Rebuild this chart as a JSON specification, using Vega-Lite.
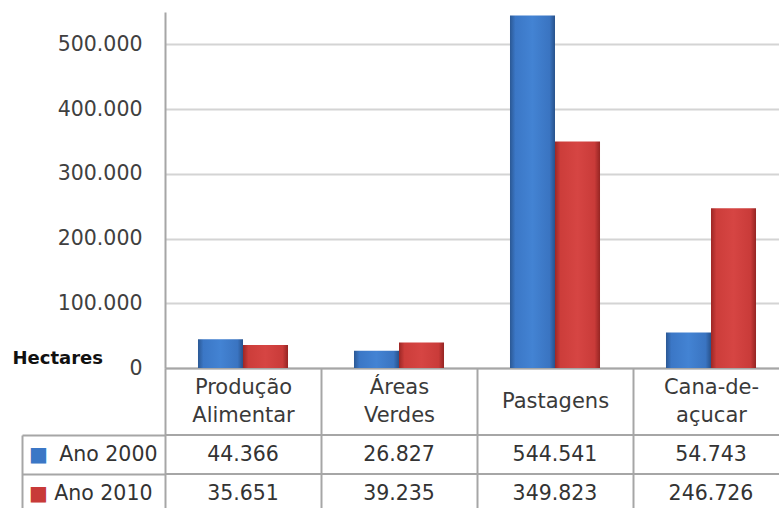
{
  "$schema": "https://vega.github.io/schema/vega-lite/v6.json",
  "padding": {"left": 12, "top": 12, "right": 0, "bottom": 0},
  "datasets": {
    "uso": [
      {"categoria": "Produção Alimentar", "ano": "Ano 2000", "hectares": 44366},
      {"categoria": "Produção Alimentar", "ano": "Ano 2010", "hectares": 35651},
      {"categoria": "Áreas Verdes", "ano": "Ano 2000", "hectares": 26827},
      {"categoria": "Áreas Verdes", "ano": "Ano 2010", "hectares": 39235},
      {"categoria": "Pastagens", "ano": "Ano 2000", "hectares": 544541},
      {"categoria": "Pastagens", "ano": "Ano 2010", "hectares": 349823},
      {"categoria": "Cana-de-açucar", "ano": "Ano 2000", "hectares": 54743},
      {"categoria": "Cana-de-açucar", "ano": "Ano 2010", "hectares": 246726}
    ]
  },
  "bounds": "flush",
  "spacing": 67,
  "vconcat": [
    {
      "width": 624,
      "height": 356,
      "data": {"name": "uso"},
      "encoding": {
        "x": {
          "field": "categoria",
          "type": "nominal",
          "sort": ["Produção Alimentar", "Áreas Verdes", "Pastagens", "Cana-de-açucar"],
          "scale": {"paddingInner": 0, "paddingOuter": 0},
          "axis": {
            "title": null,
            "orient": "bottom",
            "domainColor": "#a6a6a6",
            "domainWidth": 2,
            "ticks": true,
            "tickBand": "extent",
            "tickSize": 67,
            "tickColor": "#a6a6a6",
            "tickWidth": 2,
            "labelAngle": 0,
            "labelFont": "DejaVu Sans",
            "labelFontSize": 21,
            "labelColor": "#3a3a3a",
            "labelLineHeight": 28,
            "labelPadding": {"expr": "datum.value === 'Pastagens' ? -45 : -59"},
            "labelExpr": "datum.value === 'Produção Alimentar' ? ['Produção', 'Alimentar'] : datum.value === 'Áreas Verdes' ? ['Áreas', 'Verdes'] : datum.value === 'Cana-de-açucar' ? ['Cana-de-', 'açucar'] : datum.value"
          }
        },
        "xOffset": {
          "field": "ano",
          "type": "nominal",
          "scale": {"paddingInner": 0, "paddingOuter": 0.733}
        },
        "y": {
          "field": "hectares",
          "type": "quantitative",
          "scale": {"domain": [0, 550000], "nice": false},
          "axis": {
            "title": "Hectares",
            "titleAngle": 0,
            "titleAlign": "left",
            "titleBaseline": "middle",
            "titleX": -153,
            "titleY": 346,
            "titleFont": "DejaVu Sans",
            "titleFontSize": 18,
            "titleFontWeight": "bold",
            "titleColor": "#111111",
            "values": [0, 100000, 200000, 300000, 400000, 500000],
            "format": ",d",
            "ticks": false,
            "labelPadding": 23,
            "labelFont": "DejaVu Sans",
            "labelFontSize": 20.5,
            "labelColor": "#404040",
            "domainColor": "#a6a6a6",
            "domainWidth": 2,
            "grid": true,
            "gridColor": "#d4d4d4",
            "gridWidth": 2
          }
        }
      },
      "layer": [
        {
          "transform": [{"filter": "datum.ano === 'Ano 2000'"}],
          "mark": {
            "type": "bar",
            "color": {
              "gradient": "linear",
              "x1": 0, "x2": 1, "y1": 0, "y2": 0,
              "stops": [
                {"offset": 0, "color": "#2b5894"},
                {"offset": 0.12, "color": "#3b77c6"},
                {"offset": 0.5, "color": "#4383d3"},
                {"offset": 0.88, "color": "#3a74c1"},
                {"offset": 1, "color": "#28528b"}
              ]
            }
          }
        },
        {
          "transform": [{"filter": "datum.ano === 'Ano 2010'"}],
          "mark": {
            "type": "bar",
            "color": {
              "gradient": "linear",
              "x1": 0, "x2": 1, "y1": 0, "y2": 0,
              "stops": [
                {"offset": 0, "color": "#9c2725"},
                {"offset": 0.12, "color": "#cc3d3a"},
                {"offset": 0.5, "color": "#d64543"},
                {"offset": 0.88, "color": "#c93b39"},
                {"offset": 1, "color": "#952523"}
              ]
            }
          }
        }
      ]
    },
    {
      "width": 624,
      "height": 78,
      "data": {"name": "uso"},
      "layer": [
        {
          "mark": {"type": "text", "font": "DejaVu Sans", "fontSize": 20.5, "color": "#333333"},
          "encoding": {
            "x": {
              "field": "categoria",
              "type": "nominal",
              "sort": ["Produção Alimentar", "Áreas Verdes", "Pastagens", "Cana-de-açucar"],
              "scale": {"paddingInner": 0, "paddingOuter": 0},
              "axis": {
                "title": null,
                "labels": false,
                "ticks": false,
                "domain": false,
                "grid": true,
                "tickBand": "extent",
                "gridColor": "#a6a6a6",
                "gridWidth": 2
              }
            },
            "y": {
              "field": "ano",
              "type": "nominal",
              "sort": ["Ano 2000", "Ano 2010"],
              "scale": {"paddingInner": 0, "paddingOuter": 0},
              "axis": {
                "title": null,
                "orient": "left",
                "domain": false,
                "ticks": true,
                "tickBand": "extent",
                "tickSize": 143,
                "tickColor": "#a6a6a6",
                "tickWidth": 2,
                "labelPadding": {"expr": "datum.value === 'Ano 2000' ? -135 : -130"},
                "labelFont": "DejaVu Sans",
                "labelFontSize": 20.5,
                "labelColor": "#333333"
              }
            },
            "text": {"field": "hectares", "type": "quantitative", "format": ",d"}
          }
        },
        {
          "mark": {"type": "rule", "color": "#a6a6a6", "strokeWidth": 2},
          "encoding": {
            "y": {
              "field": "ano",
              "type": "nominal",
              "sort": ["Ano 2000", "Ano 2010"],
              "bandPosition": 0,
              "axis": {
                "title": null,
                "orient": "left",
                "offset": 143,
                "domain": true,
                "domainColor": "#a6a6a6",
                "domainWidth": 2,
                "ticks": false,
                "labelExpr": "'■'",
                "labelAlign": "center",
                "labelPadding": -16,
                "labelFont": "DejaVu Sans",
                "labelFontSize": 20,
                "labelColor": {"expr": "datum.value === 'Ano 2000' ? '#3b77c6' : '#c83a38'"}
              }
            }
          }
        }
      ],
      "resolve": {"axis": {"y": "independent"}}
    }
  ],
  "config": {
    "view": {"stroke": null},
    "font": "DejaVu Sans",
    "locale": {
      "number": {"decimal": ",", "thousands": ".", "grouping": [3], "currency": ["R$", ""]}
    }
  }
}
